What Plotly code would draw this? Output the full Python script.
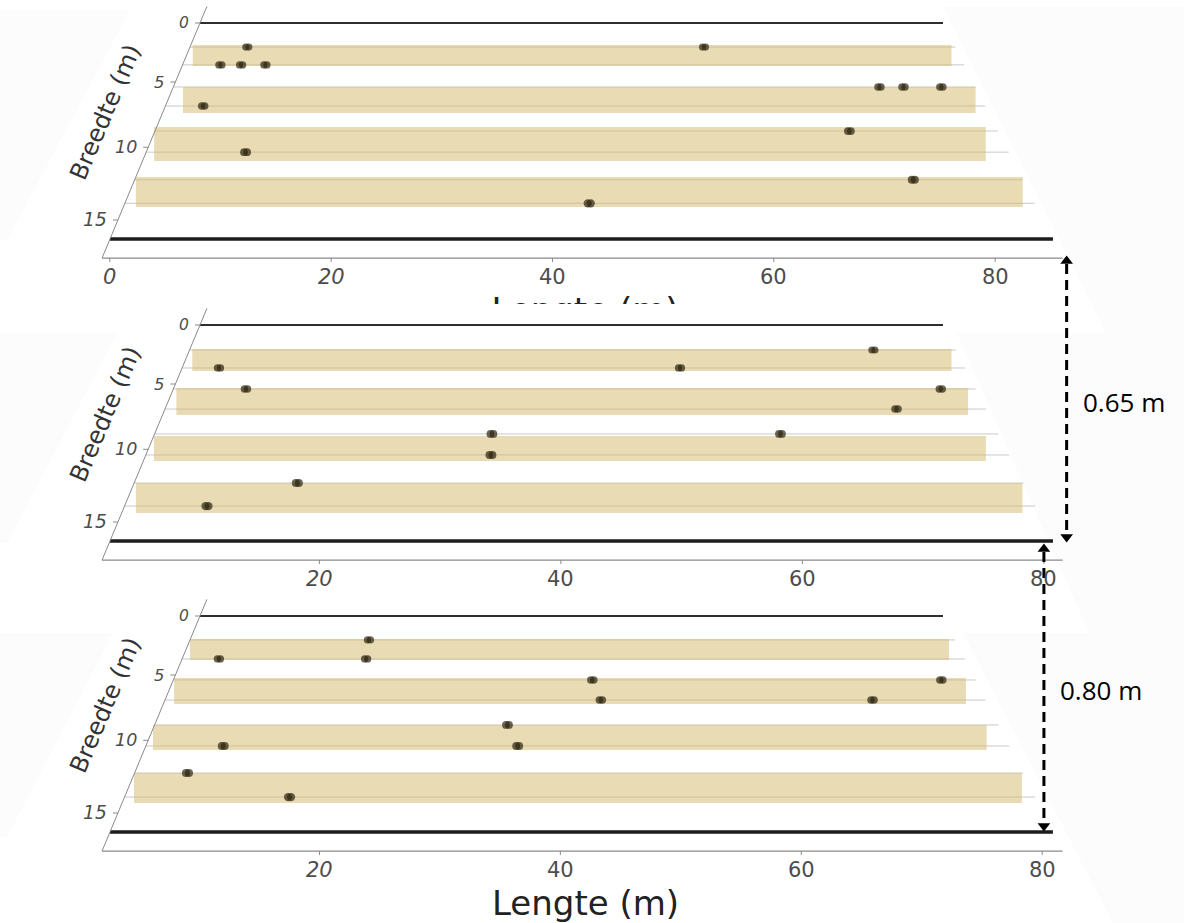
import numpy as np
import plotly.graph_objects as go

# ---------------- data ----------------
# Lengte (m) along the field, Breedte (m) across the field
X_TICKS = [[0, 20, 40, 60, 80], [20, 40, 60, 80], [20, 40, 60, 80]]
Y_TICKS = [0, 5, 10, 15]
FIELD_TOP_B = 0.0
FIELD_EDGE_B = 16.22

# panel 1 (top)
P1_STRIP_L0 = [0.0, 0.9, -0.25, -0.1]
P1_STRIP_L1 = [85.2, 85.4, 84.2, 85.5]
P1_STRIP_B0 = [1.92, 5.40, 8.50, 12.11]
P1_STRIP_B1 = [3.69, 7.44, 10.98, 14.15]
P1_ROWS = [2.1, 3.6, 5.4, 6.9, 8.8, 10.35, 12.3, 13.9]
P1_PTS_L = [5.8, 57.6, 3.5, 5.8, 8.5, 75.7, 78.3, 82.4, 3.3, 70.8, 9.3, 75.4, 43.6]
P1_PTS_B = [2.1, 2.1, 3.6, 3.6, 3.6, 5.4, 5.4, 5.4, 6.9, 8.8, 10.35, 12.3, 13.9]

# panel 2 (middle)
P2_STRIP_L0 = [2.7, 2.8, 2.5, 2.7]
P2_STRIP_L1 = [80.6, 80.2, 79.7, 80.8]
P2_STRIP_B0 = [2.09, 5.32, 9.02, 12.39]
P2_STRIP_B1 = [3.94, 7.44, 10.84, 14.41]
P2_ROWS = [2.18, 3.69, 5.40, 6.98, 8.87, 10.41, 12.39, 13.95]
P2_PTS_L = [73.0, 5.75, 52.6, 9.2, 78.1, 72.9, 33.8, 61.0, 33.8, 16.6, 9.2]
P2_PTS_B = [2.18, 3.69, 3.69, 5.40, 5.40, 6.98, 8.87, 8.87, 10.41, 12.39, 13.95]

# panel 3 (bottom)
P3_STRIP_L0 = [2.36, 2.47, 2.28, 2.45]
P3_STRIP_L1 = [80.56, 80.21, 80.01, 80.94]
P3_STRIP_B0 = [2.01, 5.24, 8.87, 12.32]
P3_STRIP_B1 = [3.78, 7.28, 10.70, 14.35]
P3_ROWS = [2.09, 3.69, 5.40, 6.98, 8.87, 10.41, 12.32, 13.95]
P3_PTS_L = [20.6, 5.7, 20.7, 43.6, 78.3, 44.3, 70.7, 35.3, 36.3, 9.1, 6.7, 16.4]
P3_PTS_B = [2.09, 3.69, 3.69, 5.40, 5.40, 6.98, 6.98, 8.87, 10.41, 10.41, 12.32, 13.95]

DISTANCES = ["0.65 m", "0.80 m"]

# ---------------- layout / perspective projection ----------------
W, H = 1184, 923
PANEL_TOP_PX = [23, 325, 616]
PANEL_L_MIN = [-0.7, 2.0, 1.95]
PANEL_L_MAX = [86.1, 81.55, 81.7]
AXIS_B = 17.41
AXIS_TOP_B = -1.5
E, G = 11.23, -0.00966
XL0, XR0, SLOPE_L, SLOPE_R = 200.0, 943.0, 0.4167, 0.509
CLIP_Y = 304  # where the middle panel hides the top panel's x-axis title

STRIP_FILL = "rgba(212,184,106,0.5)"
POINT_COL = "#2c250f"
TICK_COL = "#4d4d4d"


def proj(p, L, B, B_for_x=None):
    L = np.asarray(L, float)
    B = np.asarray(B, float)
    d = E * B / (1 + G * B)
    y = PANEL_TOP_PX[p] + d
    if B_for_x is not None:
        bx = np.asarray(B_for_x, float)
        d = E * bx / (1 + G * bx)
    xl = XL0 - SLOPE_L * d
    xr = XR0 + SLOPE_R * d
    t = (L - PANEL_L_MIN[p]) / (PANEL_L_MAX[p] - PANEL_L_MIN[p])
    return xl + t * (xr - xl), y


panels = [
    (P1_STRIP_L0, P1_STRIP_L1, P1_STRIP_B0, P1_STRIP_B1, P1_ROWS, P1_PTS_L, P1_PTS_B),
    (P2_STRIP_L0, P2_STRIP_L1, P2_STRIP_B0, P2_STRIP_B1, P2_ROWS, P2_PTS_L, P2_PTS_B),
    (P3_STRIP_L0, P3_STRIP_L1, P3_STRIP_B0, P3_STRIP_B1, P3_ROWS, P3_PTS_L, P3_PTS_B),
]

fig = go.Figure()
ann = []
shapes = []


def text(x, y, s, size, color=TICK_COL, family="DejaVu Sans", xanchor="center",
         yanchor="middle", angle=0, style="normal"):
    ann.append(dict(x=float(x), y=float(y), xref="x", yref="y", text=s, showarrow=False,
                    xanchor=xanchor, yanchor=yanchor, textangle=angle,
                    font=dict(size=size, color=color, family=family, style=style)))


def line_trace(xs, ys, color, width, dash="solid"):
    fig.add_trace(go.Scatter(x=xs, y=ys, mode="lines", hoverinfo="skip",
                             line=dict(color=color, width=width, dash=dash)))


# faint grey background wedges of the warped panels
wedges = [
    [(0, 10), (130, 10), (7, 240), (0, 240)],
    [(943, 7), (1184, 7), (1184, 333), (1106, 333)],
    [(0, 333), (117, 333), (7, 543), (0, 543)],
    [(957, 333), (1184, 333), (1184, 633), (1089, 633)],
    [(0, 633), (113, 633), (7, 837), (0, 837)],
    [(963, 633), (1184, 633), (1184, 923), (1113, 923)],
]
for w in wedges:
    path = "M " + " L ".join(f"{a},{b}" for a, b in w) + " Z"
    shapes.append(dict(type="path", path=path, xref="x", yref="y",
                       fillcolor="#fcfcfc", line=dict(width=0), layer="below"))

for p, (sl0, sl1, sb0, sb1, rows, pl, pb) in enumerate(panels):
    lmin, lmax = PANEL_L_MIN[p], PANEL_L_MAX[p]
    # row grid lines
    gx, gy = [], []
    for b in rows:
        x, y = proj(p, [lmin, lmax], [b, b])
        gx += list(x) + [None]
        gy += list(y) + [None]
    line_trace(gx, gy, "#c9c9c9", 1)
    # strips (drawn as upright rectangles, as in the reference)
    fx, fy = [], []
    for a0, a1, b0, b1 in zip(sl0, sl1, sb0, sb1):
        bm = (b0 + b1) / 2
        x, y = proj(p, [a0, a1, a1, a0, a0], [b0, b0, b1, b1, b0], B_for_x=[bm] * 5)
        fx += list(x) + [None]
        fy += list(y) + [None]
    fig.add_trace(go.Scatter(x=fx, y=fy, mode="lines", fill="toself", fillcolor=STRIP_FILL,
                             line=dict(width=0), hoverinfo="skip"))
    # field boundary lines
    x, y = proj(p, [lmin, lmax], [FIELD_TOP_B] * 2)
    line_trace(x, y, "#2e2e2e", 2.2)
    x, y = proj(p, [lmin, lmax], [FIELD_EDGE_B] * 2)
    line_trace(x, y, "#1c1c1c", 3.4)
    # x axis
    x, y = proj(p, [lmin, lmax], [AXIS_B] * 2)
    line_trace(x, y, "#8a8a8a", 1.2)
    tx, ty = [], []
    for v in X_TICKS[p]:
        xx, yy = proj(p, v, AXIS_B)
        tx += [xx, xx, None]
        ty += [yy, yy + 4, None]
        text(xx, yy + 19, str(v), 21, style="italic" if v <= 20 else "normal")
    line_trace(tx, ty, "#8a8a8a", 1)
    # y axis
    x, y = proj(p, [lmin, lmin], [AXIS_TOP_B, AXIS_B])
    line_trace(x, y, "#8a8a8a", 1)
    tx, ty = [], []
    for v in Y_TICKS:
        xx, yy = proj(p, lmin, v)
        tx += [xx, xx - 5, None]
        ty += [yy, yy, None]
        frac = (yy - PANEL_TOP_PX[p]) / 216.0
        text(xx - 9, yy, str(v), 15.5 + 3.5 * frac, xanchor="right", style="italic")
    line_trace(tx, ty, "#8a8a8a", 1)
    # axis title (Breedte)
    xx, yy = proj(p, lmin, 7.4)
    text(xx - 58, yy, "Breedte (m)", 24, color="#333333", angle=-67)
    # points (slightly elongated like the reference)
    px, py = proj(p, pl, pb)
    frac = (py - PANEL_TOP_PX[p]) / 216.0
    size = 7 + 1.5 * frac
    for off in (-1.5, 1.5):
        fig.add_trace(go.Scatter(x=px + off, y=py, mode="markers", hoverinfo="skip",
                                 marker=dict(color=POINT_COL, size=size, line=dict(width=0))))

# the top panel's "Lengte (m)" title, mostly hidden behind the middle panel:
# drawn on an overlay subplot whose plotting area ends at CLIP_Y, so it is clipped
_, yy = proj(0, 40, AXIS_B)
fig.add_trace(go.Scatter(x=[585], y=[float(yy) + 38], mode="text", text=["Lengte (m)"],
                         textposition="bottom center", cliponaxis=True,
                         textfont=dict(size=34, color="#222222", family="DejaVu Sans"),
                         hoverinfo="skip", xaxis="x2", yaxis="y2"))

# bottom axis title
_, yy = proj(2, 40, AXIS_B)
text(585, float(yy) + 52, "Lengte (m)", 34, color="#222222")

# distance arrows between panels
ax1x, ax1y = proj(0, PANEL_L_MAX[0], AXIS_B)
_, e2y = proj(1, 40, FIELD_EDGE_B)
a1x = float(ax1x) + 4
a2x, _ = proj(1, 80, AXIS_B)
a2x = float(a2x)
_, e3y = proj(2, 40, FIELD_EDGE_B)
arrows = [(a1x, float(ax1y) - 2, float(e2y) + 1), (a2x, float(e2y) + 3, float(e3y) - 1)]
for (ax, ytop, ybot), lab in zip(arrows, DISTANCES):
    line_trace([ax, ax], [ytop + 8, ybot - 8], "black", 3, dash="10px,6px")
    fig.add_trace(go.Scatter(x=[ax, ax], y=[ytop + 5, ybot - 5], mode="markers",
                             hoverinfo="skip",
                             marker=dict(symbol=["triangle-up", "triangle-down"], size=11,
                                         color="black", line=dict(width=0))))
    text(ax + 14, (ytop + ybot) / 2 + 3, lab, 26, color="black", family="Open Sans",
         xanchor="left")

fig.update_layout(
    width=W, height=H, margin=dict(l=0, r=0, t=0, b=0),
    paper_bgcolor="white", plot_bgcolor="rgba(0,0,0,0)", showlegend=False,
    xaxis=dict(range=[0, W], visible=False, fixedrange=True),
    yaxis=dict(range=[H, 0], visible=False, fixedrange=True),
    xaxis2=dict(range=[0, W], visible=False, fixedrange=True, anchor="y2",
                overlaying="x"),
    yaxis2=dict(range=[CLIP_Y, 0], visible=False, fixedrange=True, anchor="x2",
                domain=[1 - CLIP_Y / H, 1]),
    annotations=ann, shapes=shapes,
)
fig.write_html("out.html", config={"displayModeBar": False},
               post_script="document.body.style.margin='0';")
